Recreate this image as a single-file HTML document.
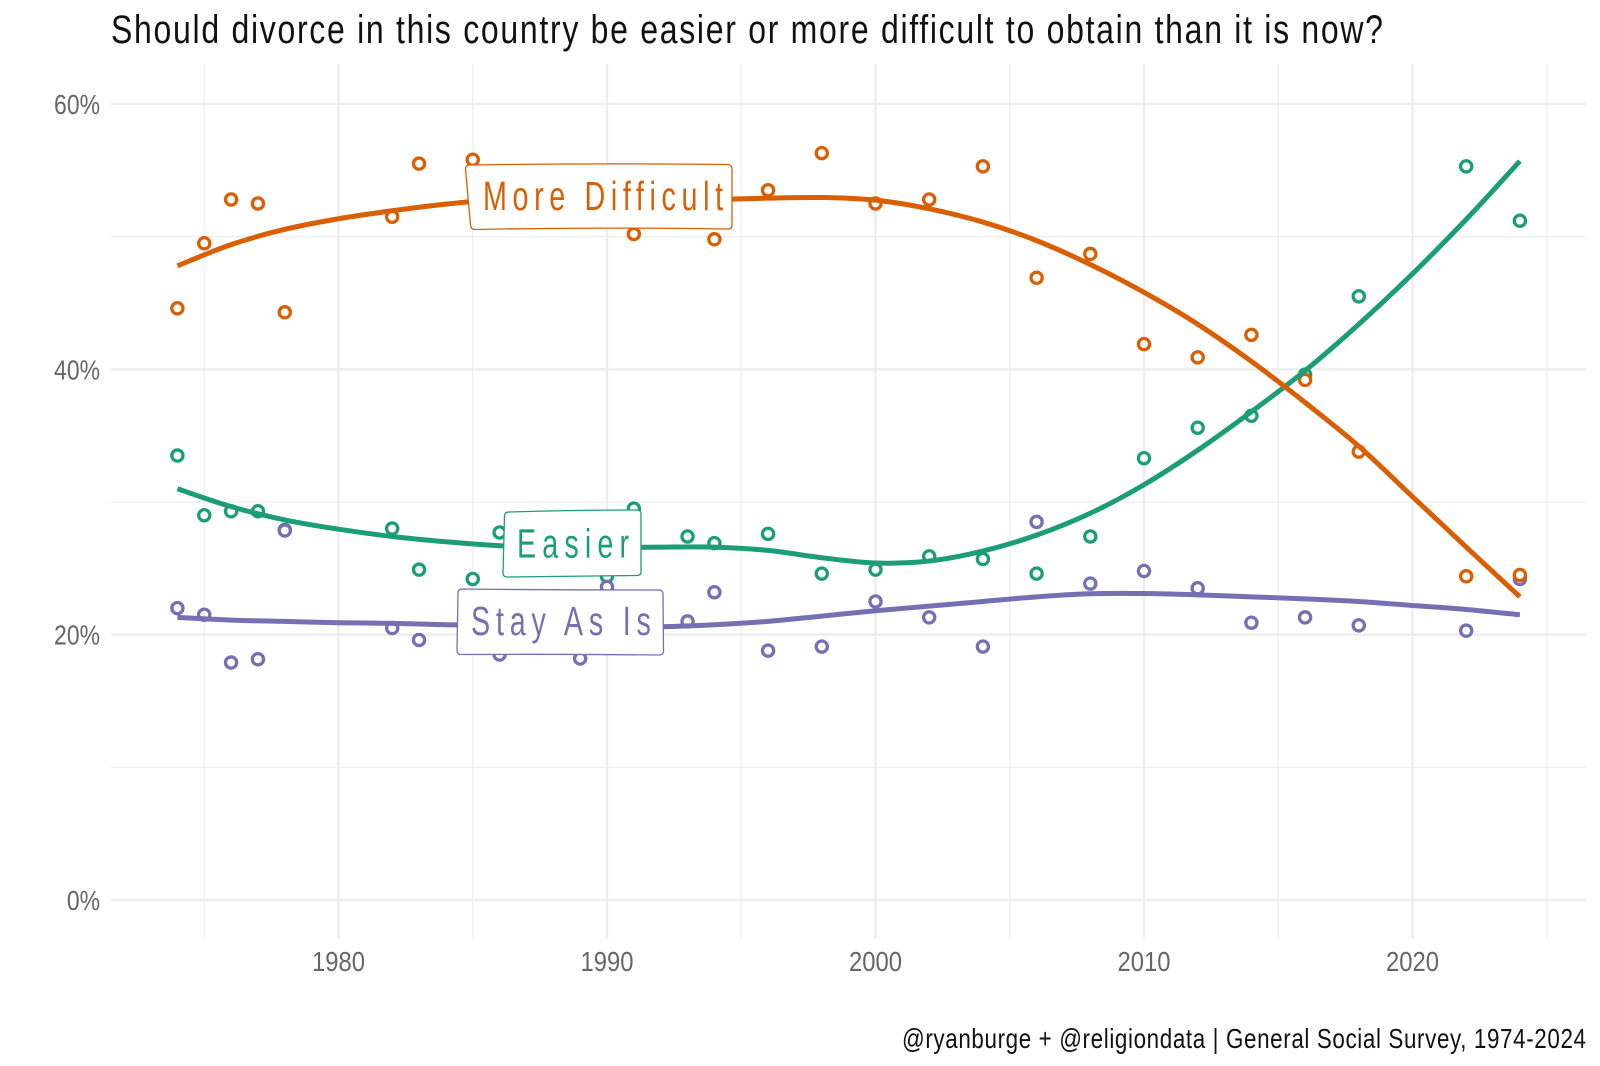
<!DOCTYPE html>
<html lang="en">
<head>
<meta charset="utf-8">
<title>Should divorce be easier or more difficult to obtain</title>
<style>
html,body{margin:0;padding:0;background:#fff;}
svg{display:block;}
text{font-family:"Liberation Sans",sans-serif;}
</style>
</head>
<body>
<svg id="chart" xmlns="http://www.w3.org/2000/svg" width="1600" height="1066" viewBox="0 0 1600 1066">
  <rect x="0" y="0" width="1600" height="1066" fill="#ffffff"/>
  <text transform="translate(111 43) scale(0.8 1)" font-size="40" fill="#111111" textLength="1590" lengthAdjust="spacing">Should divorce in this country be easier or more difficult to obtain than it is now?</text>
  <g id="grid"></g>
  <g id="ticks"></g>
  <g id="marks"></g>

  <g>
    <path d="M470 165 Q600 163 728 164.5 Q732 165 732 169 L732 225 Q732 229 728 229 Q600 227 475 229.5 Q471 229.5 470.5 225 L465.5 169 Q465.5 165 470 165 Z" fill="#ffffff" stroke="#d95f02" stroke-width="1.3"/>
    <text transform="translate(483 210) scale(0.7 1)" font-size="41" fill="#d95f02" textLength="343" lengthAdjust="spacing">More Difficult</text>
  </g>
  <g>
    <path d="M509 512 Q575 510 637 510 Q641 510 641 514 L641 572 Q641 575.5 637 575.5 Q570 576 507 577 Q503 577 503 573 L504.5 516 Q504.5 512 509 512 Z" fill="#ffffff" stroke="#1b9e77" stroke-width="1.3"/>
    <text transform="translate(517 557.5) scale(0.7 1)" font-size="41" fill="#1b9e77" textLength="160" lengthAdjust="spacing">Easier</text>
  </g>
  <g>
    <path d="M462 589 Q560 590 659 590 Q663 590 663 594 L663.5 651 Q663.5 655 659 655 Q560 654 461 654.5 Q457 654.5 457 650 L458 593 Q458 589 462 589 Z" fill="#ffffff" stroke="#7570b3" stroke-width="1.3"/>
    <text transform="translate(471 635) scale(0.7 1)" font-size="41" fill="#7570b3" textLength="257" lengthAdjust="spacing">Stay As Is</text>
  </g>

  <text transform="translate(902 1048) scale(0.8 1)" font-size="28" fill="#111111" textLength="855" lengthAdjust="spacing">@ryanburge + @religiondata | General Social Survey, 1974-2024</text>
</svg>

<script>
// ---- Survey values (percent) ----
const pointYears = [1974,1975,1976,1977,1978,1982,1983,1985,1986,1988,1989,1990,1991,1993,1994,1996,1998,2000,2002,2004,2006,2008,2010,2012,2014,2016,2018,2022,2024];
const easierPoints = [33.5,29.0,29.3,29.3,27.9,28.0,24.9,24.2,27.7,26.5,27.5,24.4,29.5,27.4,26.9,27.6,24.6,24.9,25.9,25.7,24.6,27.4,33.3,35.6,36.5,39.6,45.5,55.3,51.2];
const stayPoints = [22.0,21.5,17.9,18.15,27.85,20.5,19.6,20.0,18.5,21.0,18.2,23.6,20.3,21.0,23.2,18.8,19.1,22.5,21.3,19.1,28.5,23.85,24.8,23.5,20.9,21.3,20.7,20.3,24.2];
const difficultPoints = [44.6,49.5,52.8,52.5,44.3,51.5,55.5,55.8,53.8,52.5,54.3,52.0,50.2,51.6,49.8,53.5,56.3,52.5,52.8,55.3,46.9,48.7,41.9,40.9,42.6,39.2,33.8,24.4,24.5];

// ---- Smoothed trend values (percent) ----
const smoothYears = [1974,1976,1978,1980,1982,1984,1986,1988,1990,1992,1994,1996,1998,2000,2002,2004,2006,2008,2010,2012,2014,2016,2018,2020,2022,2024];
const easierSmooth = [31.0,29.65,28.65,27.95,27.4,27.0,26.7,26.55,26.55,26.6,26.6,26.35,25.8,25.4,25.55,26.3,27.5,29.15,31.3,33.9,36.8,39.9,43.4,47.2,51.3,55.7];
const staySmooth = [21.3,21.1,21.0,20.9,20.85,20.75,20.7,20.65,20.6,20.6,20.75,21.0,21.4,21.8,22.15,22.5,22.85,23.08,23.1,23.0,22.85,22.7,22.5,22.2,21.9,21.5];
const difficultSmooth = [47.8,49.4,50.55,51.35,51.95,52.45,52.8,52.9,52.85,52.8,52.8,52.9,52.95,52.75,52.1,51.1,49.7,47.9,45.8,43.4,40.6,37.5,34.2,30.4,26.6,22.85];

// ---- Axis ticks ----
const xMajorTicks = [1980,1990,2000,2010,2020];
const xMinorTicks = [1975,1985,1995,2005,2015,2025];
const yMajorTicks = [0,20,40,60];
const yMinorTicks = [10,30,50];
const yTickLabels = ['0%','20%','40%','60%'];

// ---- Axis functions ----
function xScale(year){ return 338.5 + (year - 1980) * 26.85; }
function yScale(pct){ return 900 - pct * 13.267; }

const SVG_NS = 'http://www.w3.org/2000/svg';
const panelLeft = 111, panelRight = 1586, panelTop = 64, panelBottom = 939;
const gridGroup = document.getElementById('grid');
const tickGroup = document.getElementById('ticks');
const markGroup = document.getElementById('marks');

function gridLine(x1, y1, x2, y2, width){
  const el = document.createElementNS(SVG_NS, 'line');
  el.setAttribute('x1', x1);
  el.setAttribute('y1', y1);
  el.setAttribute('x2', x2);
  el.setAttribute('y2', y2);
  el.setAttribute('stroke', '#ededed');
  el.setAttribute('stroke-width', width);
  gridGroup.appendChild(el);
  return el;
}

yMinorTicks.forEach(function(v){
  const el = gridLine(panelLeft, yScale(v), panelRight, yScale(v), 1.2);
  
  
});
xMinorTicks.forEach(function(v){
  const el = gridLine(xScale(v), panelTop, xScale(v), panelBottom, 1.2);
  
  
});
yMajorTicks.forEach(function(v){
  const el = gridLine(panelLeft, yScale(v), panelRight, yScale(v), 2.4);
  
  
});
xMajorTicks.forEach(function(v){
  const el = gridLine(xScale(v), panelTop, xScale(v), panelBottom, 2.4);
  
  
});

yMajorTicks.forEach(function(v, i){
  const el = document.createElementNS(SVG_NS, 'text');
  
  
  el.setAttribute('transform', 'translate(100 ' + (yScale(v) + 10) + ') scale(0.82 1)');
  el.setAttribute('font-size', 28);
  el.setAttribute('fill', '#666666');
  el.setAttribute('text-anchor', 'end');
  el.textContent = yTickLabels[i];
  tickGroup.appendChild(el);
});
xMajorTicks.forEach(function(v){
  const el = document.createElementNS(SVG_NS, 'text');
  
  
  el.setAttribute('transform', 'translate(' + xScale(v) + ' 971) scale(0.85 1)');
  el.setAttribute('font-size', 28);
  el.setAttribute('fill', '#666666');
  el.setAttribute('text-anchor', 'middle');
  el.textContent = String(v);
  tickGroup.appendChild(el);
});

function smoothPath(years, values){
  const p = years.map(function(y, i){ return [xScale(y), yScale(values[i])]; });
  let d = 'M' + p[0][0].toFixed(2) + ' ' + p[0][1].toFixed(2);
  for (let i = 0; i < p.length - 1; i++){
    const a = p[Math.max(i - 1, 0)], b = p[i], c = p[i + 1], e = p[Math.min(i + 2, p.length - 1)];
    const c1x = b[0] + (c[0] - a[0]) / 6, c1y = b[1] + (c[1] - a[1]) / 6;
    const c2x = c[0] - (e[0] - b[0]) / 6, c2y = c[1] - (e[1] - b[1]) / 6;
    d += 'C' + c1x.toFixed(2) + ' ' + c1y.toFixed(2) + ' ' + c2x.toFixed(2) + ' ' + c2y.toFixed(2) + ' ' + c[0].toFixed(2) + ' ' + c[1].toFixed(2);
  }
  return d;
}

function drawPoints(values, color, name){
  pointYears.forEach(function(year, i){
    const el = document.createElementNS(SVG_NS, 'circle');
    
    
    el.setAttribute('cx', xScale(year));
    el.setAttribute('cy', yScale(values[i]));
    el.setAttribute('r', 5.6);
    el.setAttribute('fill', '#ffffff');
    el.setAttribute('stroke', color);
    el.setAttribute('stroke-width', 3.3);
    markGroup.appendChild(el);
  });
}

function drawLine(values, color, name){
  const el = document.createElementNS(SVG_NS, 'path');
  
  
  el.setAttribute('d', smoothPath(smoothYears, values));
  el.setAttribute('fill', 'none');
  el.setAttribute('stroke', color);
  el.setAttribute('stroke-width', 5);
  markGroup.appendChild(el);
}

drawPoints(easierPoints, '#1b9e77', 'easier');
drawPoints(stayPoints, '#7570b3', 'stay-as-is');
drawPoints(difficultPoints, '#d95f02', 'more-difficult');
drawLine(easierSmooth, '#1b9e77', 'easier');
drawLine(staySmooth, '#7570b3', 'stay-as-is');
drawLine(difficultSmooth, '#d95f02', 'more-difficult');
</script>
</body>
</html>
